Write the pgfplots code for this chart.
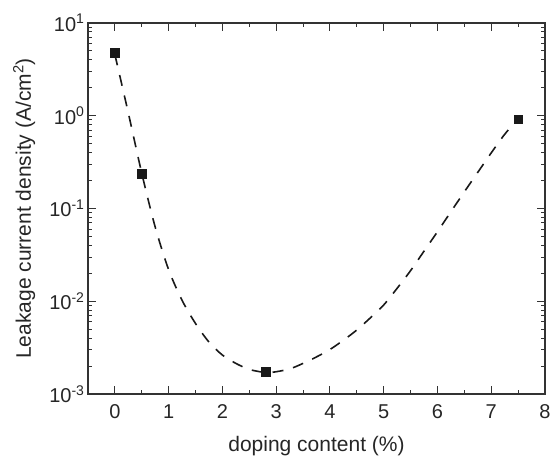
\documentclass[border=0pt]{standalone}
\usepackage{fontspec}
\setmainfont{Liberation Sans}
\usepackage{pgfplots}
\pgfplotsset{compat=1.18}
\begin{document}
\begin{tikzpicture}
\begin{axis}[
    at={(0,0)}, anchor=south west,
    scale only axis,
    width=457pt, height=371pt,
    ymode=log,
    xmin=-0.5, xmax=8,
    ymin=1e-3, ymax=10,
    xtick={0,1,2,3,4,5,6,7,8},
    minor x tick num=1,
    ytick={1e-3,1e-2,1e-1,1,10},
    yticklabels={10\textsuperscript{-3},10\textsuperscript{-2},10\textsuperscript{-1},10\textsuperscript{0},10\textsuperscript{1}},
    minor ytick={2e-3,3e-3,4e-3,5e-3,6e-3,7e-3,8e-3,9e-3,
                 2e-2,3e-2,4e-2,5e-2,6e-2,7e-2,8e-2,9e-2,
                 2e-1,3e-1,4e-1,5e-1,6e-1,7e-1,8e-1,9e-1,
                 2,3,4,5,6,7,8,9},
    tick align=inside,
    major tick length=8pt,
    minor tick length=4.5pt,
    axis line style={line width=1.3pt, draw=black!80},
    every tick/.style={line width=1pt, black!80},
    /pgf/number format/assume math mode=true,
    tick label style={font=\fontsize{20}{24}\selectfont, text=black!85},
    label style={font=\fontsize{21}{25}\selectfont, text=black!85},
    xticklabel style={anchor=base, yshift=-24pt},
    xlabel={doping content (\%)},
    ylabel={Leakage current density (A/cm\textsuperscript{2})},
    xlabel style={at={(axis description cs:0.5,0)}, anchor=base, yshift=-57pt},
    ylabel style={at={(axis description cs:0,0.5)}, anchor=base, yshift=57pt},
]
\addplot[black!90, line width=1.6pt, dash pattern=on 11pt off 10pt, smooth, tension=0.5] table {
x y
0.00 4.571
0.25 1.072
0.50 0.2399
0.75 0.0631
1.00 0.02188
1.25 0.01023
1.50 0.005754
1.75 0.003631
2.00 0.00263
2.25 0.002138
2.50 0.001841
2.75 0.001718
2.85 0.001698
3.00 0.001738
3.25 0.001862
3.50 0.002138
3.75 0.002512
4.00 0.00302
4.25 0.0038
4.50 0.0049
4.75 0.00661
5.00 0.00912
5.25 0.0138
5.50 0.0214
5.75 0.0347
6.00 0.0562
6.25 0.0923
6.50 0.1514
6.75 0.2455
7.00 0.398
7.25 0.631
7.50 0.93
};
\addplot[only marks, mark=square*, mark size=4.3pt, mark options={fill=black!90, draw=black!90}] coordinates {
(0,4.8) (0.5,0.236) (2.8,0.00174) (7.5,0.92)
};
\end{axis}
\pgfresetboundingbox
\useasboundingbox (-88pt,-63pt) rectangle (463pt,394pt);
\end{tikzpicture}
\end{document}
